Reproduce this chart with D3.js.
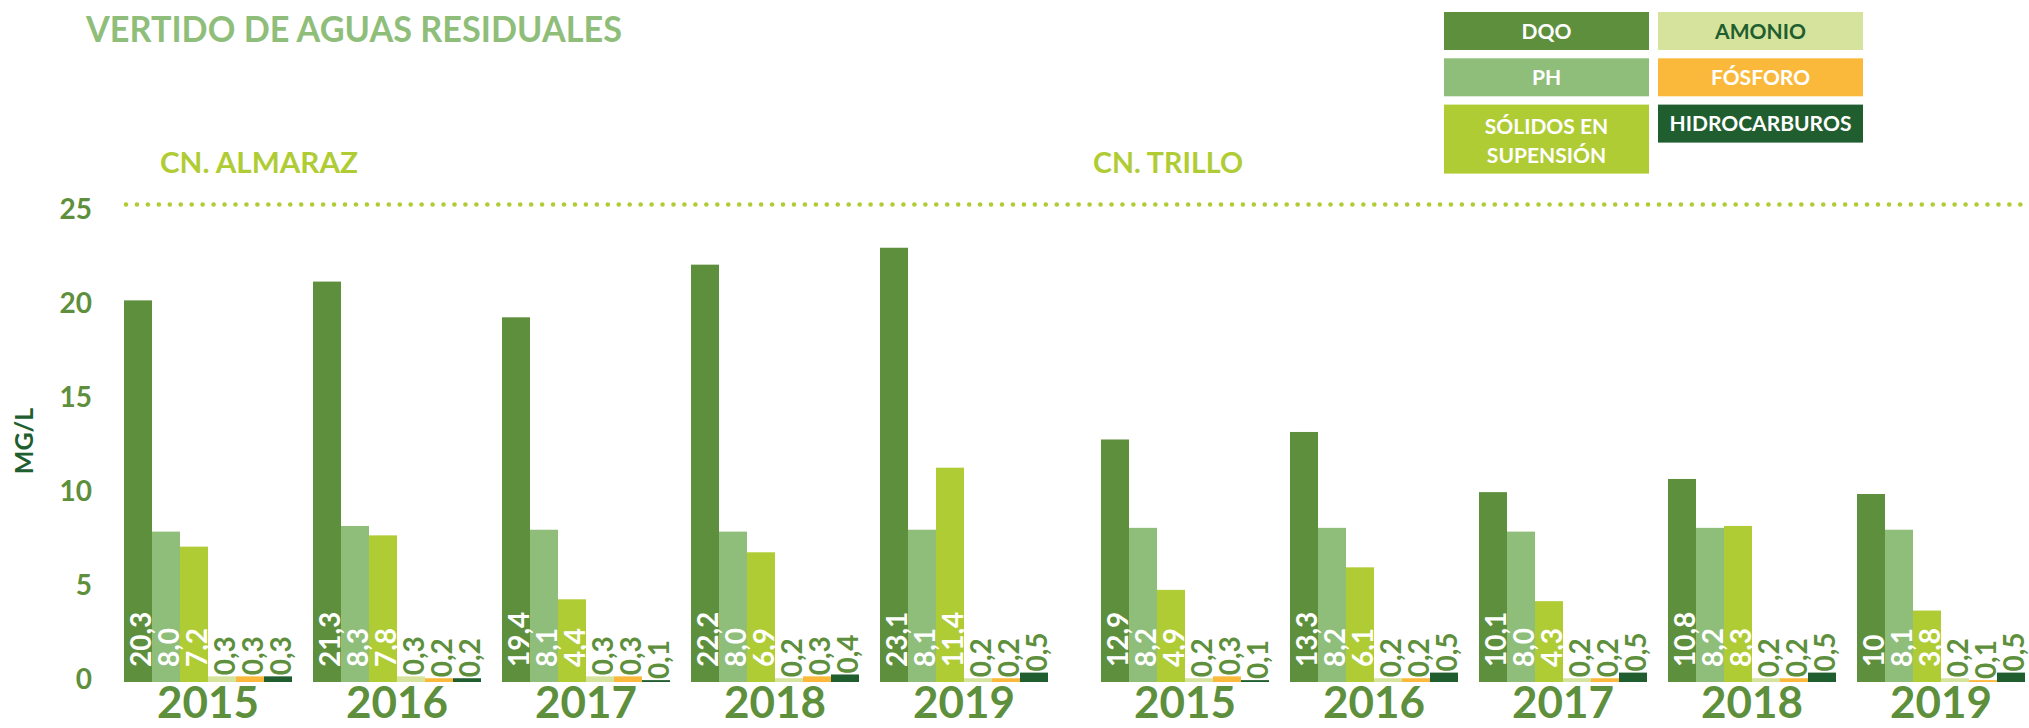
<!DOCTYPE html>
<html>
<head>
<meta charset="utf-8">
<script src="https://cdn.jsdelivr.net/npm/d3@7"></script>
<style>
  html, body { margin: 0; padding: 0; background: #ffffff; }
  svg { display: block; font-family: Lato, "Open Sans", sans-serif; font-weight: 700; }
</style>
</head>
<body>
<svg id="chart" width="2029" height="728"></svg>
<script>
// ---------- DATA ----------
const years = ["2015", "2016", "2017", "2018", "2019"];
const plants = ["CN. ALMARAZ", "CN. TRILLO"];
const series = ["DQO", "PH", "SÓLIDOS EN SUPENSIÓN", "AMONIO", "FÓSFORO", "HIDROCARBUROS"];
const legendLines = [["DQO"], ["PH"], ["SÓLIDOS EN", "SUPENSIÓN"], ["AMONIO"], ["FÓSFORO"], ["HIDROCARBUROS"]];
const seriesColors = ["#5e8f3c", "#8fbe7a", "#b0cc35", "#d5e39c", "#fbb93b", "#205e2f"];
const legendTextColors = ["#ffffff", "#ffffff", "#ffffff", "#205e2f", "#ffffff", "#ffffff"];
const insideSeries = ["DQO", "PH", "SÓLIDOS EN SUPENSIÓN"];

// CN. Almaraz (mg/l) by year 2015..2019
const almDQO     = [20.3, 21.3, 19.4, 22.2, 23.1];
const almPH      = [8.0, 8.3, 8.1, 8.0, 8.1];
const almSolidos = [7.2, 7.8, 4.4, 6.9, 11.4];
const almAmonio  = [0.3, 0.3, 0.3, 0.2, 0.2];
const almFosforo = [0.3, 0.2, 0.3, 0.3, 0.2];
const almHidro   = [0.3, 0.2, 0.1, 0.4, 0.5];

// CN. Trillo (mg/l) by year 2015..2019
const triDQO     = [12.9, 13.3, 10.1, 10.8, 10];
const triPH      = [8.2, 8.2, 8.0, 8.2, 8.1];
const triSolidos = [4.9, 6.1, 4.3, 8.3, 3.8];
const triAmonio  = [0.2, 0.2, 0.2, 0.2, 0.2];
const triFosforo = [0.3, 0.2, 0.2, 0.2, 0.1];
const triHidro   = [0.1, 0.5, 0.5, 0.5, 0.5];

const yTicks = [0, 5, 10, 15, 20, 25];
const labelExceptions = [{ plant: "CN. TRILLO", year: "2019", series: "DQO", text: "10" }];

const title = "VERTIDO DE AGUAS RESIDUALES";
const yTitle = "MG/L";

// ---------- BUILD ----------
const plantData = {
  "CN. ALMARAZ": [almDQO, almPH, almSolidos, almAmonio, almFosforo, almHidro],
  "CN. TRILLO":  [triDQO, triPH, triSolidos, triAmonio, triFosforo, triHidro]
};

const svg = d3.select("#chart");
const C = { dqo: "#5e8f3c", ph: "#8fbe7a", lime: "#b0cc35", dark: "#205e2f" };

const y = d3.scaleLinear().domain([0, 25.4]).range([682, 204.5]);

const xPlant = {
  "CN. ALMARAZ": d3.scaleBand().domain(years).range([124, 1048]).paddingInner(21 / 189).paddingOuter(0),
  "CN. TRILLO":  d3.scaleBand().domain(years).range([1101, 2025]).paddingInner(21 / 189).paddingOuter(0)
};
const xInner = d3.scaleBand().domain(series).range([0, xPlant["CN. ALMARAZ"].bandwidth()]).padding(0);
const color = d3.scaleOrdinal().domain(series).range(seriesColors);

// Title
svg.append("text")
  .attr("x", 86).attr("y", 42)
  .attr("fill", C.ph)
  .attr("font-size", 37)
  .attr("textLength", 536).attr("lengthAdjust", "spacingAndGlyphs")
  .text(title);

// Plant labels
const plantLabelPos = { "CN. ALMARAZ": { x: 160, w: 198 }, "CN. TRILLO": { x: 1093, w: 150 } };
plants.forEach(p => {
  svg.append("text")
    .attr("x", plantLabelPos[p].x).attr("y", 173)
    .attr("fill", C.lime)
    .attr("font-size", 28)
    .attr("textLength", plantLabelPos[p].w).attr("lengthAdjust", "spacingAndGlyphs")
    .text(p);
});

// Dotted top line
svg.append("line")
  .attr("x1", 126).attr("x2", 2035)
  .attr("y1", y(25.4)).attr("y2", y(25.4))
  .attr("stroke", C.lime)
  .attr("stroke-width", 4.6)
  .attr("stroke-linecap", "round")
  .attr("stroke-dasharray", "0 10.95");

// Y axis
const yAxis = d3.axisLeft(y).tickValues(yTicks).tickSize(0).tickPadding(0).tickFormat(d3.format("d"));
const gy = svg.append("g").attr("transform", "translate(92,-2)").call(yAxis);
gy.select(".domain").remove();
gy.selectAll("text")
  .attr("fill", C.dqo)
  .attr("font-size", 28)
  .attr("font-family", "Lato, sans-serif")
  .attr("font-weight", 700);

// Y title
svg.append("text")
  .attr("transform", "translate(24,441) rotate(-90)")
  .attr("text-anchor", "middle")
  .attr("dy", "0.36em")
  .attr("fill", C.dark)
  .attr("font-size", 25)
  .text(yTitle);

// Bars and labels
const fmt = v => v.toFixed(1).replace(".", ",");
plants.forEach(p => {
  const xs = xPlant[p];
  const rows = [];
  years.forEach((yr, yi) => {
    series.forEach((s, si) => {
      const v = plantData[p][si][yi];
      const ex = labelExceptions.find(e => e.plant === p && e.year === yr && e.series === s);
      rows.push({ plant: p, year: yr, series: s, value: v, label: ex ? ex.text : fmt(v) });
    });
  });

  const g = svg.append("g");
  g.selectAll("rect").data(rows).join("rect")
    .attr("x", d => xs(d.year) + xInner(d.series))
    .attr("width", xInner.bandwidth())
    .attr("y", d => y(d.value))
    .attr("height", d => y(0) - y(d.value))
    .attr("fill", d => color(d.series));

  g.selectAll("text.val").data(rows).join("text")
    .attr("class", "val")
    .attr("transform", d => {
      const cx = xs(d.year) + xInner(d.series) + xInner.bandwidth() / 2 + 3;
      const inside = insideSeries.includes(d.series);
      const y0 = inside ? y(0) - 15 : y(d.value) - 1;
      return `translate(${cx},${y0}) rotate(-90)`;
    })
    .attr("text-anchor", "start")
    .attr("dy", "0.36em")
    .attr("font-size", 28)
    .attr("fill", d => insideSeries.includes(d.series) ? "#ffffff" : C.dqo)
    .text(d => d.label);

  // Year labels
  g.selectAll("text.yr").data(years).join("text")
    .attr("class", "yr")
    .attr("x", d => xs(d) + xs.bandwidth() / 2)
    .attr("y", 718)
    .attr("text-anchor", "middle")
    .attr("font-size", 44)
    .attr("fill", C.dqo)
    .text(d => d);
});

// Legend
const legend = svg.append("g");
series.forEach((s, i) => {
  const col = Math.floor(i / 3), row = i % 3;
  const lx = 1444 + col * 214;
  const ly = 12 + row * 46.3;
  const lines = legendLines[i];
  const h = lines.length > 1 ? 69 : 38;
  legend.append("rect")
    .attr("x", lx).attr("y", ly).attr("width", 205).attr("height", h)
    .attr("fill", color(s));
  lines.forEach((ln, li) => {
    legend.append("text")
      .attr("x", lx + 102.5)
      .attr("y", ly + (lines.length > 1 ? 22 + li * 29 : h / 2))
      .attr("text-anchor", "middle")
      .attr("dy", "0.36em")
      .attr("font-size", 21)
      .attr("fill", legendTextColors[i])
      .text(ln);
  });
});
</script>
</body>
</html>
